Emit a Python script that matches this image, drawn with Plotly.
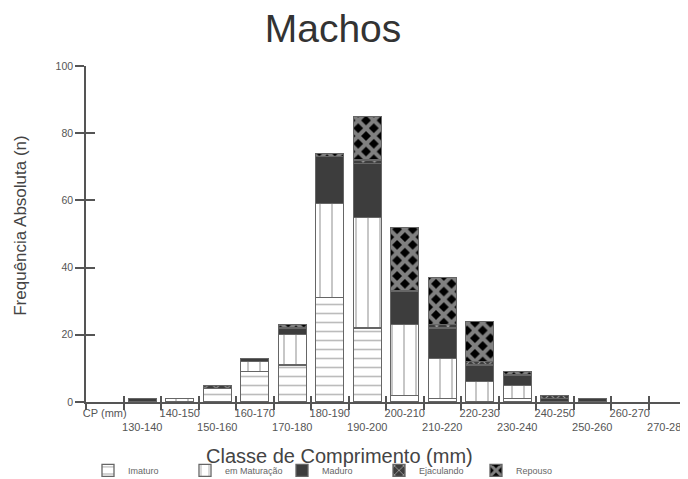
import plotly.graph_objects as go

categories = ["CP (mm)", "130-140", "140-150", "150-160", "160-170", "170-180",
              "180-190", "190-200", "200-210", "210-220", "220-230", "230-240",
              "240-250", "250-260", "260-270", "270-280"]
imaturo      = [0, 0, 0, 4, 9, 11, 31, 22, 2, 1, 0, 1, 0, 0, 0, 0]
em_maturacao = [0, 0, 1, 0, 3, 9, 28, 33, 21, 12, 6, 4, 0, 0, 0, 0]
maduro       = [0, 1, 0, 0, 1, 2, 14, 16, 10, 9, 5, 3, 1, 1, 0, 0]
ejaculando   = [0, 0, 0, 1, 0, 0, 0, 1, 0, 1, 1, 0, 1, 0, 0, 0]
repouso      = [0, 0, 0, 0, 0, 1, 1, 13, 19, 14, 12, 1, 0, 0, 0, 0]
y_ticks = [0, 20, 40, 60, 80, 100]

FONT = "Liberation Sans, Arial, sans-serif"
AX = "#555555"
OUT = "#666666"
DARK = "#3d3d3d"

# the page body adds an 8px offset; the figure is sized to fit inside the window
OFF = 8
W, H = 688 - OFF, 479 - OFF
PL, PR, PT, PB = 86 - OFF, 686 - OFF, 66 - OFF, 402.5 - OFF   # plot-area edges (figure px)


def nz(vals):
    return [v if v else None for v in vals]


series = [
    ("Imaturo", imaturo, dict(color="white", pattern=dict(shape="-", fgcolor="#7a7a7a", bgcolor="white", size=9, solidity=0.18))),
    ("em Maturação", em_maturacao, dict(color="white", pattern=dict(shape="|", fgcolor="#7a7a7a", bgcolor="white", size=12, solidity=0.14))),
    ("Maduro", maduro, dict(color=DARK)),
    ("Ejaculando", ejaculando, dict(color=DARK, pattern=dict(shape="x", fgcolor="white", bgcolor=DARK, size=8, solidity=0.25))),
    ("Repouso", repouso, dict(color="black", pattern=dict(shape="x", fgcolor="white", bgcolor="black", size=11, solidity=0.6))),
]

fig = go.Figure()
for name, vals, mk in series:
    mk = dict(mk)
    mk["line"] = dict(color=OUT, width=1.3)
    fig.add_trace(go.Bar(x=categories, y=nz(vals), name=name, marker=mk,
                         hoverinfo="x+y+name"))

# helper trace for the inner halves of the crossing ticks
fig.add_trace(go.Scatter(x=categories, y=[None] * len(categories), xaxis="x2", yaxis="y2",
                         showlegend=False, hoverinfo="skip"))

ticktext = [c if i % 2 == 0 else "<br>" + c for i, c in enumerate(categories)]
pw, ph = PR - PL, PB - PT


def px_x(x):
    return (x - OFF - PL) / pw


def px_y(y):
    return (PB - (y - OFF)) / ph


fig.update_layout(
    width=W, height=H,
    barmode="stack", bargap=0.25,
    paper_bgcolor="white", plot_bgcolor="white",
    margin=dict(l=PL, r=W - PR, t=PT, b=H - PB, autoexpand=False),
    font=dict(family=FONT, color=AX),
    title=dict(text="Machos", x=(333 - OFF) / W, xanchor="center", y=1 - (28 - OFF) / H, yanchor="middle",
               font=dict(size=39, color="#333333", family=FONT)),
    xaxis=dict(type="category", categoryorder="array", categoryarray=categories,
               range=[-0.5, len(categories) - 0.5], automargin=False,
               tickmode="array", tickvals=categories, ticktext=ticktext,
               tickson="boundaries", ticks="outside", ticklen=6, tickwidth=1.5, tickcolor=AX,
               showline=True, linecolor=AX, linewidth=1.5, showgrid=False,
               tickfont=dict(size=11, color="#555555"), tickangle=0, fixedrange=True),
    xaxis2=dict(type="category", categoryorder="array", categoryarray=categories,
                overlaying="x", range=[-0.5, len(categories) - 0.5], automargin=False,
                tickson="boundaries", ticks="inside", ticklen=6, tickwidth=1.5, tickcolor=AX,
                showticklabels=False, showline=False, showgrid=False, side="bottom",
                anchor="y"),
    yaxis=dict(range=[0, 100], tickmode="array", tickvals=y_ticks, automargin=False,
               ticks="outside", ticklen=9, tickwidth=1.5, tickcolor=AX,
               showline=True, linecolor=AX, linewidth=1.5, showgrid=False, zeroline=False,
               tickfont=dict(size=10.5, color="#555555")),
    yaxis2=dict(range=[0, 100], overlaying="y", tickmode="array", tickvals=y_ticks,
                ticks="inside", ticklen=9, tickwidth=1.5, tickcolor=AX, automargin=False,
                showticklabels=False, showline=False, showgrid=False, zeroline=False,
                side="left", anchor="x"),
    legend=dict(orientation="h", x=px_x(88), xanchor="left",
                y=px_y(471), yanchor="middle",
                font=dict(size=9, color="#666666"), traceorder="normal",
                entrywidth=52, itemwidth=30, bgcolor="rgba(0,0,0,0)"),
    annotations=[
        dict(text="Classe de Comprimento (mm)", xref="paper", yref="paper",
             x=px_x(339), y=px_y(457), xanchor="center", yanchor="middle",
             showarrow=False, font=dict(size=20, color="#444444", family=FONT)),
        dict(text="Frequência Absoluta (n)", xref="paper", yref="paper", textangle=-90,
             x=px_x(21), y=px_y(226), xanchor="center", yanchor="middle",
             showarrow=False, font=dict(size=17, color="#444444", family=FONT)),
    ],
)

fig.write_html("out.html")
